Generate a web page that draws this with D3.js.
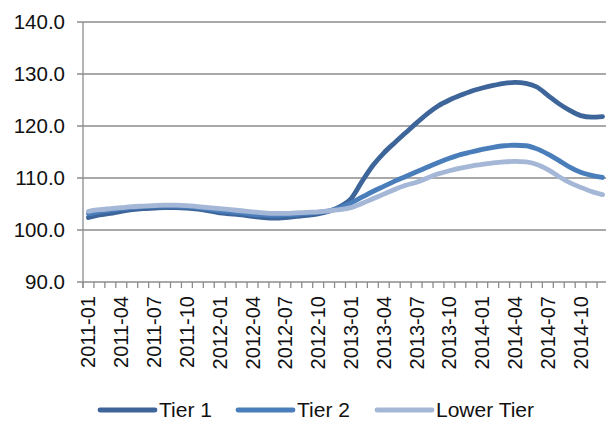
<!DOCTYPE html>
<html>
<head>
<meta charset="utf-8">
<script src="https://cdn.jsdelivr.net/npm/d3@7"></script>
<style>
  body { margin: 0; background: #fff; }
  text { font-family: "Liberation Sans", Arial, sans-serif; fill: #111; }
</style>
</head>
<body>
<div id="chart"></div>
<script>
// months 2011-01 .. 2014-12
const months = [];
for (const yr of [2011, 2012, 2013, 2014]) {
  for (let m = 1; m <= 12; m++) months.push(yr + "-" + String(m).padStart(2, "0"));
}

const tier1 = [
  102.4, 102.9, 103.2, 103.6, 103.9, 104.1, 104.2, 104.3, 104.3, 104.2, 104.0, 103.7,
  103.3, 103.1, 102.9, 102.6, 102.4, 102.3, 102.4, 102.6, 102.8, 103.1, 103.6, 104.5,
  106.0, 109.3, 112.4, 114.8, 116.8, 118.7, 120.6, 122.4, 123.9, 125.0, 125.9, 126.7,
  127.3, 127.8, 128.2, 128.4, 128.2, 127.5, 125.9, 124.3, 123.0, 122.0, 121.7, 121.8
];
const tier2 = [
  103.1, 103.5, 103.8, 104.1, 104.3, 104.5, 104.6, 104.6, 104.6, 104.5, 104.3, 104.0,
  103.7, 103.5, 103.3, 103.0, 102.9, 102.8, 102.9, 103.0, 103.2, 103.4, 103.7, 104.3,
  105.2, 106.3, 107.4, 108.4, 109.4, 110.3, 111.2, 112.1, 113.0, 113.8, 114.5, 115.0,
  115.5, 115.9, 116.2, 116.3, 116.2, 115.6, 114.6, 113.4, 112.1, 111.1, 110.5, 110.1
];
const lowerTier = [
  103.6, 103.9, 104.1, 104.3, 104.5, 104.6, 104.7, 104.8, 104.8, 104.7, 104.5, 104.3,
  104.1, 103.9, 103.7, 103.5, 103.3, 103.2, 103.2, 103.3, 103.4, 103.5, 103.7, 103.9,
  104.3, 105.1, 106.0, 106.9, 107.8, 108.6, 109.2, 110.0, 110.8, 111.4, 111.9, 112.3,
  112.6, 112.9, 113.1, 113.2, 113.1, 112.6, 111.6, 110.3, 109.1, 108.2, 107.4, 106.8
];

const seriesNames = ["Tier 1", "Tier 2", "Lower Tier"];
const seriesColors = ["#3d6599", "#4a7ebb", "#a5b7d7"];
const seriesValues = [tier1, tier2, lowerTier];

const yTicks = [90, 100, 110, 120, 130, 140];
// a label every 3 months
const xLabels = months.filter((d, i) => i % 3 === 0);

const width = 606, height = 421;
const plotLeft = 83, plotTop = 22, plotRight = 608, plotBottom = 282;

const svg = d3.select("#chart").append("svg")
  .attr("width", width).attr("height", height);

const x = d3.scaleBand().domain(months).range([plotLeft, plotRight]);
const y = d3.scaleLinear().domain([90, 140]).range([plotBottom, plotTop]);

// grid lines
svg.append("g")
  .selectAll("line")
  .data(yTicks)
  .join("line")
  .attr("x1", plotLeft - 6)
  .attr("x2", width)
  .attr("y1", (d) => y(d))
  .attr("y2", (d) => y(d))
  .attr("stroke", "#8c8c8c")
  .attr("stroke-width", 1.3);

// y axis
svg.append("line")
  .attr("x1", plotLeft).attr("x2", plotLeft)
  .attr("y1", plotTop).attr("y2", plotBottom + 6)
  .attr("stroke", "#8c8c8c").attr("stroke-width", 1.3);

svg.append("g")
  .selectAll("text")
  .data(yTicks)
  .join("text")
  .attr("x", 65)
  .attr("y", (d) => y(d))
  .attr("dy", "0.35em")
  .attr("text-anchor", "end")
  .attr("font-size", "20.5px")
  .text((d) => d.toFixed(1));

// x ticks between categories
const tickPos = months.map((m) => x(m)).concat([plotRight]);
svg.append("g")
  .selectAll("line")
  .data(tickPos)
  .join("line")
  .attr("x1", (d) => d).attr("x2", (d) => d)
  .attr("y1", plotBottom).attr("y2", plotBottom + 6)
  .attr("stroke", "#8c8c8c").attr("stroke-width", 1.3);

svg.append("g")
  .selectAll("text")
  .data(xLabels)
  .join("text")
  .attr("transform", (d) => `translate(${x(d) + x.bandwidth() / 2},${plotBottom + 14}) rotate(-90)`)
  .attr("dy", "0.35em")
  .attr("text-anchor", "end")
  .attr("font-size", "20px")
  .text((d) => d);

// lines
const line = d3.line()
  .x((d, i) => x(months[i]) + x.bandwidth() / 2)
  .y((d) => y(d))
  .curve(d3.curveMonotoneX);

svg.append("g")
  .selectAll("path")
  .data(seriesValues)
  .join("path")
  .attr("d", (d) => line(d))
  .attr("fill", "none")
  .attr("stroke", (d, i) => seriesColors[i])
  .attr("stroke-width", 4.8)
  .attr("stroke-linecap", "round")
  .attr("stroke-linejoin", "round");

// legend
const legendX = [100, 238, 377];
const legendY = 410;
const lg = svg.append("g")
  .selectAll("g")
  .data(seriesNames)
  .join("g")
  .attr("transform", (d, i) => `translate(${legendX[i]},${legendY})`);

lg.append("line")
  .attr("x1", 0).attr("x2", 55)
  .attr("stroke", (d, i) => seriesColors[i])
  .attr("stroke-width", 4.8)
  .attr("stroke-linecap", "round");

lg.append("text")
  .attr("x", 59)
  .attr("dy", "0.35em")
  .attr("font-size", "21px")
  .text((d) => d);
</script>
</body>
</html>
